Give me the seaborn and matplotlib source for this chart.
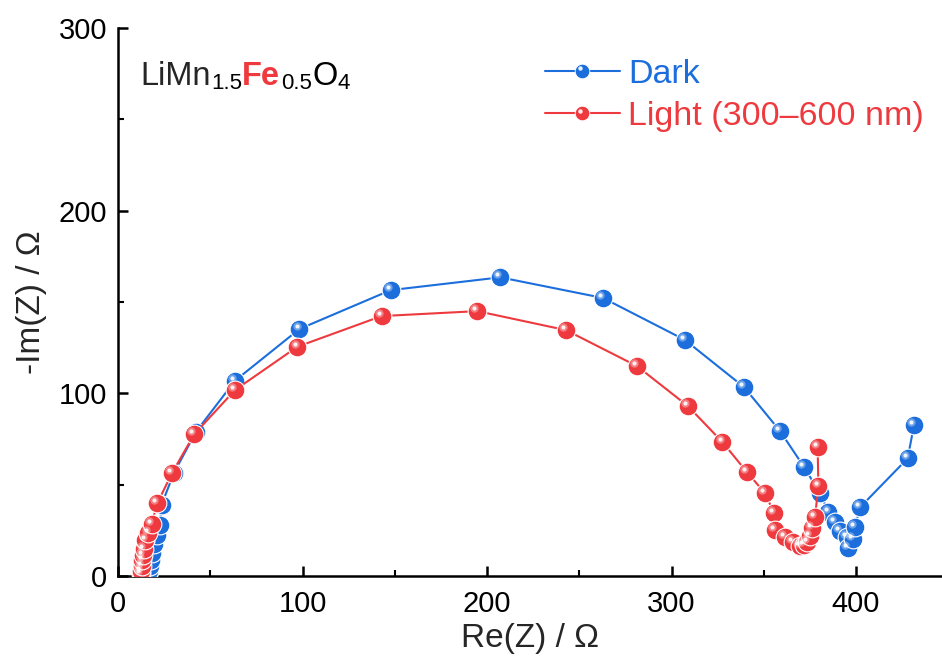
import numpy as np
import pandas as pd
import matplotlib
matplotlib.use("Agg")
import matplotlib.pyplot as plt
import matplotlib.transforms as mtransforms
from matplotlib.lines import Line2D
from matplotlib.legend_handler import HandlerLine2D
from matplotlib.ticker import MultipleLocator
import seaborn as sns

# Nyquist data: Re(Z) and -Im(Z) in ohm, high frequency -> low frequency
dark_re = [16.5, 16.8, 17.2, 17.7, 18.5, 19.5, 21.0, 22.8, 23.6, 30.4, 42.3, 63.4,
           98.3, 147.8, 207.2, 262.9, 307.3, 339.3, 358.8, 371.8, 380.5, 385.0,
           388.6, 391.3, 394.9, 395.8, 398.5, 399.5, 402.2, 428.0, 431.4]
dark_im = [1.0, 3.0, 5.5, 8.5, 12.5, 17.5, 22.5, 28.0, 39.0, 56.6, 79.0, 106.9,
           135.2, 156.5, 163.5, 152.2, 129.2, 103.4, 79.4, 59.7, 45.3, 35.2,
           29.7, 24.8, 21.2, 15.2, 20.1, 27.0, 37.6, 64.4, 82.5]

light_re = [12.3, 12.5, 12.8, 13.2, 13.6, 14.1, 14.8, 16.5, 18.2, 21.3, 29.3, 41.3,
            63.4, 97.2, 142.9, 194.7, 242.8, 281.3, 308.9, 327.6, 340.7, 350.7,
            355.6, 356.1, 361.5, 366.0, 369.6, 371.6, 373.6, 375.0, 376.0, 377.8,
            379.6, 379.2]
light_im = [1.0, 3.0, 5.5, 8.5, 11.5, 15.0, 19.5, 23.5, 28.5, 39.8, 56.4, 77.6,
            101.8, 125.5, 142.3, 145.0, 134.6, 114.9, 93.0, 73.3, 57.1, 45.3,
            34.3, 25.2, 21.2, 18.6, 16.3, 16.8, 18.8, 22.0, 26.1, 32.5,
            49.3, 70.6]

series_names = ["Dark", "Light (300\u2013600 nm)"]
series_colors = ["#1b6edc", "#ee3a3e"]

sns.set_theme(style="ticks")
plt.rcParams["font.family"] = ["Liberation Sans", "DejaVu Sans"]
plt.rcParams["axes.linewidth"] = 1.8

fig = plt.figure(figsize=(9.42, 6.64), dpi=100)
W, H = 942, 664
ax = fig.add_axes([118 / W, (H - 576) / H, (W - 118) / W, (576 - 28) / H])

ms = 13.5

def draw_series(xs, ys, color, z):
    df = pd.DataFrame({"re": xs, "im": ys})
    sns.lineplot(data=df, x="re", y="im", sort=False, estimator=None, ax=ax,
                 color=color, lw=1.5, marker="o", markersize=ms,
                 markeredgecolor="white", markeredgewidth=0.8, zorder=z)
    # glossy highlight on each ball
    off = mtransforms.ScaledTranslation(-2.8 / 100, 3.0 / 100, fig.dpi_scale_trans)
    ax.scatter(xs, ys, s=36, color="white", alpha=0.35, lw=0,
               transform=ax.transData + off, zorder=z + 0.1)
    ax.scatter(xs, ys, s=9, color="white", alpha=0.9, lw=0,
               transform=ax.transData + off, zorder=z + 0.2)

draw_series(dark_re, dark_im, series_colors[0], 3)
draw_series(light_re, light_im, series_colors[1], 4)

ax.set_xlim(0, 446.6)
ax.set_ylim(0, 300)
ax.xaxis.set_major_locator(MultipleLocator(100))
ax.xaxis.set_minor_locator(MultipleLocator(50))
ax.yaxis.set_major_locator(MultipleLocator(100))
ax.yaxis.set_minor_locator(MultipleLocator(50))
ax.tick_params(which="major", direction="in", length=7, width=1.8,
               labelsize=21, pad=8, color="black", labelcolor="black")
ax.tick_params(axis="x", which="major", pad=10)
ax.tick_params(which="minor", direction="in", length=4.5, width=1.5, color="black")
for side in ["top", "right"]:
    ax.spines[side].set_visible(False)
for side in ["left", "bottom"]:
    ax.spines[side].set_color("black")

ax.set_xlabel("Re(Z) / \u03a9", fontsize=24, labelpad=4)
ax.set_ylabel("-Im(Z) / \u03a9", fontsize=24, labelpad=8)

# compound formula with coloured Fe
fs_main, fs_sub, dsub = 23.5, 16, -3.0
y0 = 0.896
t = ax.text(0.0267, y0, "LiMn", transform=ax.transAxes, fontsize=fs_main,
            va="baseline", ha="left")
pieces = [("1.5", fs_sub, dsub, "black", "normal"),
          ("Fe", fs_main, 0, series_colors[1], "bold"),
          ("0.5", fs_sub, dsub, "black", "normal"),
          ("O", fs_main, 0, "black", "normal"),
          ("4", fs_sub, dsub, "black", "normal")]
for s, fs, dy, col, fw in pieces:
    t = ax.annotate(s, xy=(1, y0), xycoords=(t, "axes fraction"),
                    xytext=(0.3, dy), textcoords="offset points",
                    fontsize=fs, color=col, fontweight=fw,
                    va="baseline", ha="left")


class GlossyBallHandler(HandlerLine2D):
    """Legend line + ball with a small offset highlight."""
    def create_artists(self, legend, orig_handle, xdescent, ydescent,
                       width, height, fontsize, trans):
        artists = super().create_artists(legend, orig_handle, xdescent, ydescent,
                                         width, height, fontsize, trans)
        cx = width / 2 - xdescent
        cy = height / 2 - ydescent
        hl = Line2D([cx - 1.6], [cy + 1.8], ls="none", marker="o", markersize=3.2,
                    markeredgewidth=0, color="white", alpha=0.9, transform=trans)
        return list(artists) + [hl]


handles = [Line2D([], [], color=c, lw=1.5, marker="o", markersize=10.5,
                  markeredgecolor="white", markeredgewidth=0.6)
           for c in series_colors]
leg = ax.legend(handles, series_names,
                handler_map={Line2D: GlossyBallHandler()},
                loc="upper left", bbox_to_anchor=(0.518, 0.944), frameon=False,
                fontsize=24.5, handlelength=2.2, handletextpad=0.25,
                labelspacing=0.34, borderpad=0, borderaxespad=0)
for txt, c in zip(leg.get_texts(), series_colors):
    txt.set_color(c)

fig.savefig("out.png", dpi=100)
